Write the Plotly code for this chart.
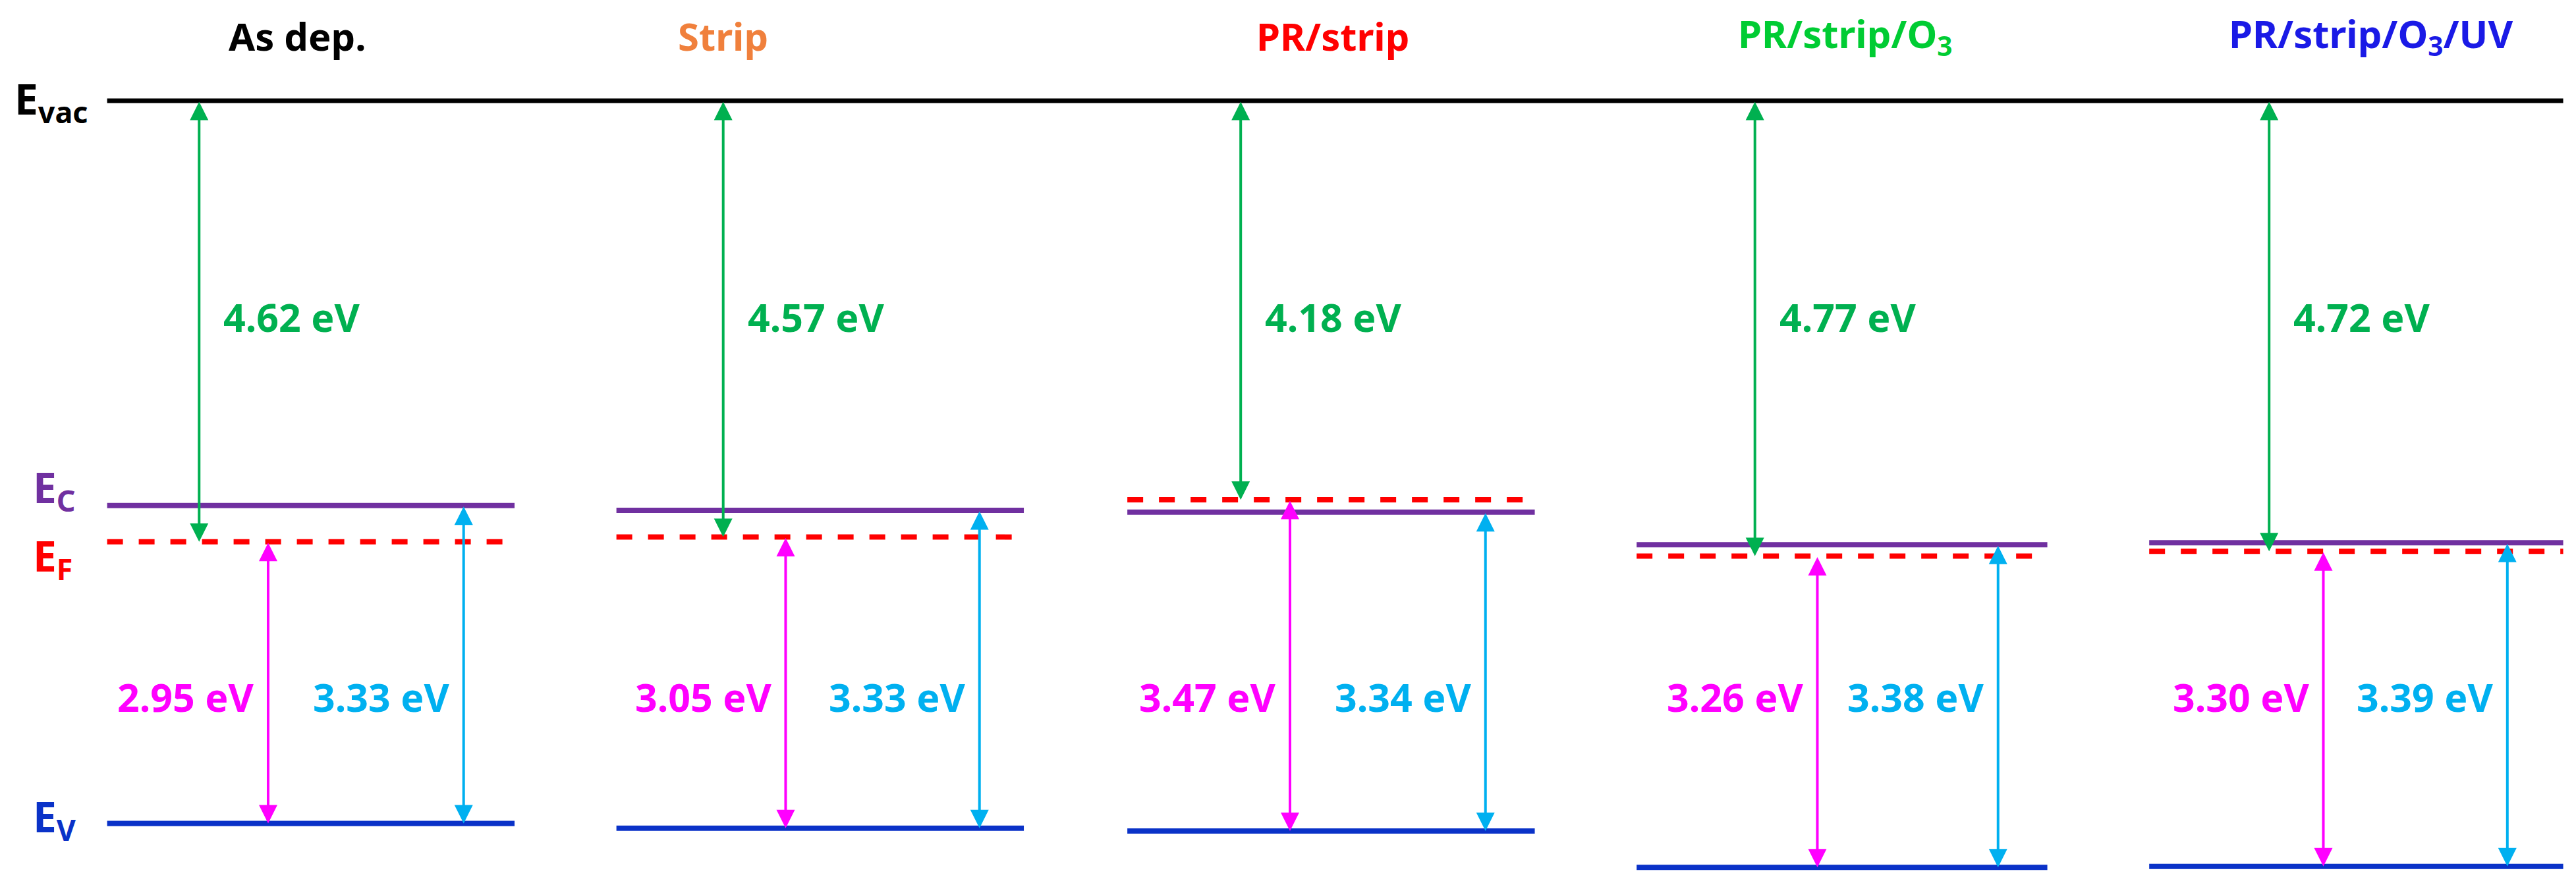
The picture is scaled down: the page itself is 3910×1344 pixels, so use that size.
import plotly.graph_objects as go

samples = ["As dep.", "Strip", "PR/strip", "PR/strip/O<sub>3</sub>", "PR/strip/O<sub>3</sub>/UV"]
title_colors = ["#000000", "#F0803C", "#FF0000", "#00CC33", "#1A1AE6"]
work_function = [4.62, 4.57, 4.18, 4.77, 4.72]   # Evac - EF
ef_minus_ev = [2.95, 3.05, 3.47, 3.26, 3.30]      # EF - EV
band_gap = [3.33, 3.33, 3.34, 3.38, 3.39]         # EC - EV

# layout helpers (x in arbitrary horizontal units)
seg_left = [62, 372, 683, 993, 1305]
seg_right = [310, 620, 931, 1243, 1557]
wf_x = [118, 437, 752, 1065, 1378]
fv_x = [160, 475, 782, 1103, 1411]
gap_x = [279, 593, 901, 1213, 1523]
title_x = [178, 437, 808, 1120, 1440]

FONT = "Noto Sans"
GREEN, MAG, CYAN = "#00B050", "#FF00FF", "#00B0F0"
PURPLE, RED, BLUE = "#7030A0", "#FF0000", "#0A32C8"

fig = go.Figure()
fig.add_trace(go.Scatter(x=[62, 1557], y=[0, 0], mode="lines",
                         line=dict(color="black", width=7), hoverinfo="skip"))
ann = []
for i in range(5):
    ef = -work_function[i]
    ev = ef - ef_minus_ev[i]
    ec = ev + band_gap[i]
    xl, xr = seg_left[i], seg_right[i]
    fig.add_trace(go.Scatter(x=[xl, xr], y=[ec, ec], mode="lines",
                             line=dict(color=PURPLE, width=8), hoverinfo="skip"))
    fig.add_trace(go.Scatter(x=[xl, xr], y=[ef, ef], mode="lines",
                             line=dict(color=RED, width=8, dash="dash"), hoverinfo="skip"))
    fig.add_trace(go.Scatter(x=[xl, xr], y=[ev, ev], mode="lines",
                             line=dict(color=BLUE, width=8), hoverinfo="skip"))
    for (x, y0, y1, c) in [(wf_x[i], 0, ef, GREEN), (fv_x[i], ef, ev, MAG), (gap_x[i], ec, ev, CYAN)]:
        ann.append(dict(x=x, y=y1, ax=x, ay=y0, xref="x", yref="y", axref="x", ayref="y",
                        text="", showarrow=True, arrowhead=2, startarrowhead=2,
                        arrowside="end+start", arrowsize=1.4, startarrowsize=1.4,
                        arrowwidth=4, arrowcolor=c))
    ann.append(dict(x=wf_x[i] + 14, y=-2.26, text=f"<b>{work_function[i]:.2f} eV</b>", showarrow=False,
                    xanchor="left", font=dict(family=FONT, size=59, color=GREEN)))
    ann.append(dict(x=fv_x[i] - 8, y=-6.24, text=f"<b>{ef_minus_ev[i]:.2f} eV</b>", showarrow=False,
                    xanchor="right", font=dict(family=FONT, size=59, color=MAG)))
    ann.append(dict(x=gap_x[i] - 8, y=-6.24, text=f"<b>{band_gap[i]:.2f} eV</b>", showarrow=False,
                    xanchor="right", font=dict(family=FONT, size=59, color=CYAN)))
    ann.append(dict(x=title_x[i], y=0.68, text=f"<b>{samples[i]}</b>", showarrow=False,
                    font=dict(family=FONT, size=58, color=title_colors[i])))

ec0 = -work_function[0] - ef_minus_ev[0] + band_gap[0]
ef0 = -work_function[0]
ev0 = ef0 - ef_minus_ev[0]
for txt, y, c in [("E<sub>vac</sub>", 0, "black"), ("E<sub>C</sub>", ec0 + 0.17, PURPLE),
                  ("E<sub>F</sub>", ef0 - 0.17, RED), ("E<sub>V</sub>", ev0 + 0.05, BLUE)]:
    ann.append(dict(x=5 if txt.startswith("E<sub>vac") else 16, y=y, text=f"<b>{txt}</b>", showarrow=False,
                    xanchor="left", font=dict(family=FONT, size=64, color=c)))

fig.update_layout(width=3910, height=1344, showlegend=False, annotations=ann,
                  margin=dict(l=0, r=0, t=0, b=0), plot_bgcolor="white", paper_bgcolor="white",
                  xaxis=dict(range=[0, 1568], visible=False),
                  yaxis=dict(range=[-8.27, 1.0], visible=False))
fig.write_html("out.html")
